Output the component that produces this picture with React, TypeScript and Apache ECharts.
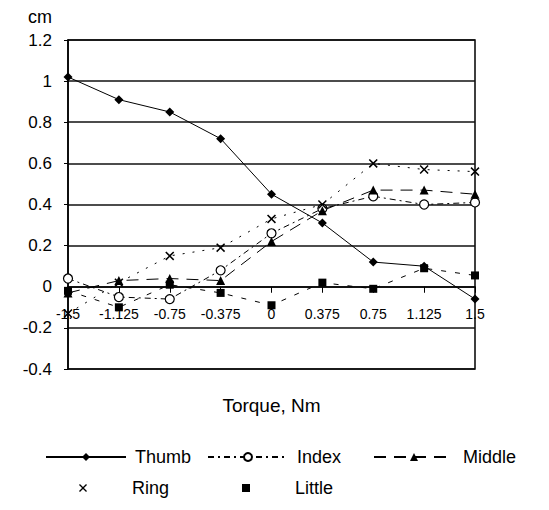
import React, { useEffect, useRef } from "react";
import * as echarts from "echarts";

const categories = ["-1.5", "-1.125", "-0.75", "-0.375", "0", "0.375", "0.75", "1.125", "1.5"];
const thumb = [1.02, 0.91, 0.85, 0.72, 0.45, 0.31, 0.12, 0.1, -0.06];
const indexF = [0.04, -0.05, -0.06, 0.08, 0.26, 0.38, 0.44, 0.4, 0.41];
const middle = [-0.03, 0.03, 0.04, 0.03, 0.22, 0.37, 0.47, 0.47, 0.45];
const ring = [-0.13, 0.02, 0.15, 0.19, 0.33, 0.4, 0.6, 0.57, 0.56];
const little = [-0.02, -0.1, 0.01, -0.03, -0.09, 0.02, -0.01, 0.09, 0.055];

const FONT = "Liberation Sans, Arial, sans-serif";
const X_SYMBOL =
  "path://M0,1.2L1.2,0L5,3.8L8.8,0L10,1.2L6.2,5L10,8.8L8.8,10L5,6.2L1.2,10L0,8.8L3.8,5Z";

const GRID_TOP = 40;
const GRID_BOTTOM = 141;
const CHART_H = 510;
const Y_MIN = -0.4;
const Y_MAX = 1.2;

export default function App() {
  const ref = useRef<HTMLDivElement>(null);
  useEffect(() => {
    document.body.style.margin = "0";
    const chart = echarts.init(ref.current!, null, { renderer: "svg" });
    const plotH = CHART_H - GRID_TOP - GRID_BOTTOM;
    const zeroOffset = -((0 - Y_MIN) / (Y_MAX - Y_MIN)) * plotH;
    const legendBase = {
      orient: "horizontal",
      itemWidth: 80,
      itemHeight: 10,
      textStyle: { color: "#000", fontSize: 18, fontFamily: FONT, padding: [0, 0, 0, 4] },
      selectedMode: false,
    };
    chart.setOption({
      animation: false,
      backgroundColor: "#fff",
      grid: {
        left: 68,
        right: 74,
        top: GRID_TOP,
        bottom: GRID_BOTTOM,
        show: true,
        borderColor: "#000",
        borderWidth: 1.5,
      },
      legend: [
        { ...legendBase, left: 40, top: 443, data: ["Thumb"] },
        { ...legendBase, left: 202, top: 443, data: ["Index"] },
        { ...legendBase, left: 368, top: 443, data: ["Middle"] },
        { ...legendBase, left: 37, top: 474, data: [{ name: "Ring", lineStyle: { opacity: 0 } }] },
        { ...legendBase, left: 200, top: 474, data: [{ name: "Little", lineStyle: { opacity: 0 } }] },
      ],
      xAxis: {
        type: "category",
        data: categories,
        boundaryGap: false,
        position: "bottom",
        offset: zeroOffset,
        name: "Torque, Nm",
        nameLocation: "middle",
        nameGap: 109,
        nameTextStyle: { color: "#000", fontSize: 19, fontFamily: FONT },
        axisLine: { onZero: false, lineStyle: { color: "#000", width: 1.5 } },
        axisTick: { show: true, inside: false, length: 6, lineStyle: { color: "#000" } },
        axisLabel: { color: "#000", fontSize: 14, fontFamily: FONT, margin: 20, interval: 0 },
        splitLine: { show: false },
        z: 3,
      },
      yAxis: {
        type: "value",
        min: Y_MIN,
        max: Y_MAX,
        interval: 0.2,
        name: "cm",
        nameLocation: "end",
        nameGap: 14,
        nameTextStyle: { color: "#000", fontSize: 18, fontFamily: FONT, align: "right", padding: [0, 16, 0, 0] },
        axisLine: { show: true, onZero: false, lineStyle: { color: "#000", width: 1.5 } },
        axisTick: { show: true, inside: false, length: 4, lineStyle: { color: "#000" } },
        axisLabel: {
          color: "#000",
          fontSize: 17,
          fontFamily: FONT,
          margin: 16,
          formatter: (v: number) => String(Math.round(v * 10) / 10),
        },
        splitLine: { show: true, lineStyle: { color: "#111", width: 1.5 } },
      },
      series: [
        {
          name: "Thumb",
          type: "line",
          data: thumb,
          symbol: "diamond",
          symbolSize: 9,
          itemStyle: { color: "#000" },
          lineStyle: { color: "#000", width: 1 },
          z: 5,
        },
        {
          name: "Index",
          type: "line",
          data: indexF,
          symbol: "circle",
          symbolSize: 9,
          itemStyle: { color: "#fff", borderColor: "#000", borderWidth: 1.2 },
          lineStyle: { color: "#000", width: 1, type: [6, 4, 2, 4] },
          z: 5,
        },
        {
          name: "Middle",
          type: "line",
          data: middle,
          symbol: "triangle",
          symbolSize: 9,
          itemStyle: { color: "#000" },
          lineStyle: { color: "#000", width: 1, type: [12, 8] },
          z: 5,
        },
        {
          name: "Ring",
          type: "line",
          data: ring,
          symbol: X_SYMBOL,
          symbolSize: 9,
          itemStyle: { color: "#000" },
          lineStyle: { color: "#000", width: 1, type: [2, 8] },
          z: 5,
        },
        {
          name: "Little",
          type: "line",
          data: little,
          symbol: "rect",
          symbolSize: 8,
          itemStyle: { color: "#000" },
          lineStyle: { color: "#000", width: 1, type: [5, 9] },
          z: 5,
        },
      ],
    });
    return () => chart.dispose();
  }, []);
  return <div ref={ref} style={{ width: 549, height: 510 }} />;
}
